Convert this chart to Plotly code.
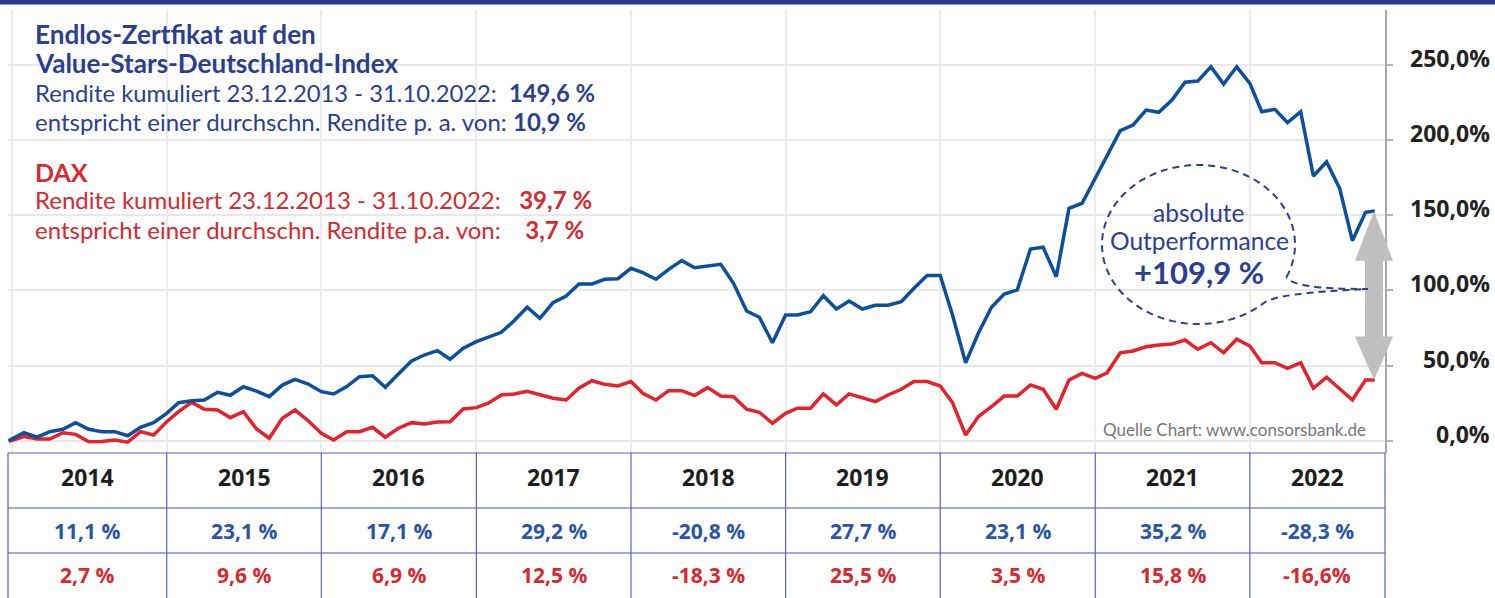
import numpy as np
import pandas as pd
import plotly.graph_objects as go

# ---------------- data ----------------
month_ends = pd.date_range("2014-03-01", "2022-11-01", freq="MS") - pd.Timedelta(days=1)
dates = ["2014-01-23"] + [d.strftime("%Y-%m-%d") for d in month_ends] + ["2022-11-22"]

value_stars = [0, 5.3, 2.3, 6, 7.6, 12, 7.6, 6, 6, 3.3, 8.9, 12, 18.2, 25.3, 26.6, 27.1, 32.2, 30.2,
               35.9, 33, 29.3, 37, 40.8, 37.7, 32.6, 31.1, 36, 42.6, 43.2, 35.5, 44.4, 53, 57, 59.9,
               54.2, 61.5, 65.9, 68.8, 72.1, 79.8, 88.8, 81.4, 91.8, 96.3, 104.3, 104.3, 107.4, 107.8,
               114.7, 111.8, 107.4, 114, 119.8, 115.1, 116.4, 117.4, 104.7, 86.3, 82.1, 65.2, 83.6,
               83.6, 85.8, 96.5, 87.6, 92.9, 87.6, 90.1, 90.1, 92.5, 101.4, 110, 110, 83.6, 51.9,
               71.5, 88.8, 97.6, 100.3, 127.5, 128.7, 109.1, 154.6, 158, 174.6, 190, 206.3, 210, 220,
               218.5, 226.7, 238.5, 239.3, 248.8, 237.3, 248.8, 237.8, 218.9, 220.5, 211.6, 218.9,
               176.1, 185.6, 167.9, 133.1, 152, 152.8]

dax = [-0.5, 2.7, 1.1, 1.1, 5.3, 4.2, -0.7, -0.5, 0.5, -1, 6, 3.8, 12.6, 19.3, 25.5, 20.9, 20.4, 15.3,
       19.3, 7.8, 1.6, 14.9, 20.4, 13.3, 4.9, 0.5, 6, 6, 8.9, 2.3, 8.3, 12, 11.1, 12.4, 12.6, 21.1, 22,
       24.9, 30.4, 31.1, 32.9, 30.4, 28.2, 27.1, 34.9, 39.9, 37.5, 36.4, 39.3, 31.5, 27.1, 33.3, 33.3,
       30, 35.3, 29.7, 29.3, 20.9, 18.9, 11.6, 18.2, 21.6, 21.6, 31.1, 23.8, 31.1, 28.6, 26, 30.4,
       34.2, 39.3, 39.3, 36.4, 25.3, 3.8, 16, 22.6, 29.7, 29.7, 37.1, 34.2, 20.9, 40.4, 44.8, 41.5,
       45.2, 58.5, 59.7, 62.5, 63.7, 64.3, 67, 60.8, 65.2, 58.5, 67.5, 63, 51.9, 51.9, 48.2, 51.9,
       34.9, 42.2, 34.9, 27.1, 40.4, 40.4]

years = ["2014", "2015", "2016", "2017", "2018", "2019", "2020", "2021", "2022"]
vs_returns = ["11,1 %", "23,1 %", "17,1 %", "29,2 %", "-20,8 %", "27,7 %", "23,1 %", "35,2 %", "-28,3 %"]
dax_returns = ["2,7 %", "9,6 %", "6,9 %", "12,5 %", "-18,3 %", "25,5 %", "3,5 %", "15,8 %", "-16,6%"]
year_starts = ["2015-01-31", "2016-01-31", "2017-01-31", "2018-01-31", "2019-01-31",
               "2020-01-31", "2021-01-31", "2022-01-31"]

y_ticks = [0, 50, 100, 150, 200, 250]
y_tick_labels = ["0,0%", "50,0%", "100,0%", "150,0%", "200,0%", "250,0%"]

x_range = ["2014-01-21 08:00", "2022-12-16"]
y_range = [-8.2, 286.6]

# ---------------- styles ----------------
FONT = "Lato"
NUM_FONT = "Open Sans"
NAVY = "#2c3f8f"
BLUE_LINE = "#0c4f9c"
RED_LINE = "#e5222b"
RED_TXT = "#d52a30"
TBL_BLUE = "#2b55a6"
W_FIG, H_FIG = 1495, 598
L, R, T, B_M = 8, 110, 10, 145
W = W_FIG - L - R
H = H_FIG - T - B_M
BOTTOM = H_FIG - B_M


def xp(px):
    return (px - L) / W


def yp(py):
    return (BOTTOM - py) / H


fig = go.Figure()
fig.add_trace(go.Scatter(x=dates, y=dax, mode="lines", line=dict(color=RED_LINE, width=3.5),
                         hoverinfo="skip", showlegend=False))
fig.add_trace(go.Scatter(x=dates, y=value_stars, mode="lines", line=dict(color=BLUE_LINE, width=3.5),
                         hoverinfo="skip", showlegend=False))

shapes = []
annotations = []

# top bar
shapes.append(dict(type="rect", xref="paper", yref="paper", x0=xp(-5), x1=xp(W_FIG + 5),
                   y0=yp(-1), y1=yp(4.5), fillcolor="#2a3b8c", line=dict(width=0), layer="above"))

# y tick labels (right aligned)
for v, lab in zip(y_ticks, y_tick_labels):
    annotations.append(dict(x=xp(1492), xref="paper", y=v, yref="y", text=lab, showarrow=False,
                            xanchor="right", yanchor="middle", yshift=7,
                            font=dict(family=NUM_FONT, size=23, color="#222222", weight="bold")))

# table lines
row_lines = [508, 553]
shapes.append(dict(type="line", xref="paper", yref="paper", x0=0, x1=1, y0=yp(453), y1=yp(453),
                   line=dict(color="#5c63b5", width=1.2)))
for py in row_lines:
    shapes.append(dict(type="line", xref="paper", yref="paper", x0=0, x1=1, y0=yp(py), y1=yp(py),
                       line=dict(color="#a5a9d8", width=2)))
for xr in [0, 1]:
    shapes.append(dict(type="line", xref="paper", yref="paper", x0=xr, x1=xr, y0=yp(453), y1=yp(600),
                       line=dict(color="#5c63b5", width=1.2)))
for d in year_starts:
    shapes.append(dict(type="line", xref="x", yref="paper", x0=d, x1=d, y0=yp(453), y1=yp(600),
                       line=dict(color="#5c63b5", width=1.2)))

bounds = [pd.Timestamp(x_range[0])] + [pd.Timestamp(d) for d in year_starts] + [pd.Timestamp(x_range[1])]
for i, (yr, v1, v2) in enumerate(zip(years, vs_returns, dax_returns)):
    mid = bounds[i] + (bounds[i + 1] - bounds[i]) / 2
    annotations.append(dict(x=mid, xref="x", y=yp(477), yref="paper", text=yr, showarrow=False,
                            xanchor="center", yanchor="middle",
                            font=dict(family=NUM_FONT, size=23, color="#1e1e1e", weight="bold")))
    annotations.append(dict(x=mid, xref="x", y=yp(531), yref="paper", text=v1, showarrow=False,
                            xanchor="center", yanchor="middle",
                            font=dict(family=NUM_FONT, size=21, color=TBL_BLUE, weight="bold")))
    annotations.append(dict(x=mid, xref="x", y=yp(575), yref="paper", text=v2, showarrow=False,
                            xanchor="center", yanchor="middle",
                            font=dict(family=NUM_FONT, size=21, color=RED_TXT, weight="bold")))

# header texts
NB = "\u00a0"
texts = [
    (34, "<b>Endlos-Zertfikat auf den</b>", NAVY, 26.1),
    (63, "<b>Value-Stars-Deutschland-Index</b>", NAVY, 26.1),
    (93, f"Rendite kumuliert 23.12.2013 - 31.10.2022:{NB}{NB}<b>149,6 %</b>", NAVY, 23.8),
    (121, "entspricht einer durchschn. Rendite p. a. von: <b>10,9 %</b>", NAVY, 24),
    (172, "<b>DAX</b>", RED_TXT, 25),
    (200, f"Rendite kumuliert 23.12.2013 - 31.10.2022:{NB * 3}<b>39,7 %</b>", RED_TXT, 24),
    (229, f"entspricht einer durchschn. Rendite p.a. von:{NB * 4}<b>3,7 %</b>", RED_TXT, 24),
]
for py, txt, col, size in texts:
    annotations.append(dict(x=xp(33), xref="paper", y=yp(py), yref="paper", text=txt, showarrow=False,
                            xanchor="left", yanchor="middle",
                            font=dict(family=FONT, size=size, color=col)))

# source
annotations.append(dict(x=xp(1368), xref="paper", y=yp(429), yref="paper",
                        text="Quelle Chart: www.consorsbank.de", showarrow=False,
                        xanchor="right", yanchor="middle",
                        font=dict(family=FONT, size=17, color="#777777")))

# grey double arrow between the two end values
ax_c, sw, hw = xp(1374), 9 / W, 19 / W
top, bot = value_stars[-1], dax[-1]
hl_top, hl_bot = 33, 29
arrow = (f"M {ax_c},{top} L {ax_c + hw},{top - hl_top} L {ax_c + sw},{top - hl_top} "
         f"L {ax_c + sw},{bot + hl_bot} L {ax_c + hw},{bot + hl_bot} L {ax_c},{bot} "
         f"L {ax_c - hw},{bot + hl_bot} L {ax_c - sw},{bot + hl_bot} L {ax_c - sw},{top - hl_top} "
         f"L {ax_c - hw},{top - hl_top} Z")
shapes.append(dict(type="path", xref="paper", yref="y", path=arrow, fillcolor="#bfbfbf",
                   line=dict(width=0), layer="above"))

# dashed speech bubble
cx, cy, rx, ry = 1198.5, 244.5, 96.5, 79.5
ang = np.radians(np.linspace(-24.3, 312.8, 140))
pts = [(cx + rx * np.cos(a), cy - ry * np.sin(a)) for a in ang]
bubble = "M " + " L ".join(f"{xp(x):.5f},{yp(y):.5f}" for x, y in pts)
bubble += f" Q {xp(1276):.5f},{yp(293):.5f} {xp(1368):.5f},{yp(289):.5f}"
bubble += f" Q {xp(1292):.5f},{yp(289):.5f} {xp(pts[0][0]):.5f},{yp(pts[0][1]):.5f}"
shapes.append(dict(type="path", xref="paper", yref="paper", path=bubble,
                   line=dict(color=NAVY, width=2, dash="7px,5px"), layer="above"))

for py, txt, size, wt in [(212, "absolute", 24.5, "normal"), (240, "Outperformance", 24.5, "normal"),
                          (272, "+109,9 %", 31, "bold")]:
    annotations.append(dict(x=xp(1199), xref="paper", y=yp(py), yref="paper", text=txt, showarrow=False,
                            xanchor="center", yanchor="middle",
                            font=dict(family=FONT, size=size, color=NAVY, weight=wt)))

fig.update_layout(
    width=W_FIG, height=H_FIG,
    margin=dict(l=L, r=R, t=T, b=B_M, pad=0),
    paper_bgcolor="white", plot_bgcolor="white",
    showlegend=False, hovermode=False,
    xaxis=dict(type="date", range=x_range, showgrid=True, gridcolor="#ebebeb", gridwidth=1.5,
               tick0="2014-01-31", dtick="M12", showticklabels=False, ticks="", showline=False,
               zeroline=False, fixedrange=True),
    yaxis=dict(range=y_range, side="right", tickvals=y_ticks, showticklabels=False,
               showgrid=True, gridcolor="#e8e8e8", gridwidth=1.5, zeroline=False,
               showline=True, linecolor="#a9a9a9", linewidth=2, ticks="outside", ticklen=6,
               tickcolor="#b5b5b5", tickwidth=1.5, fixedrange=True),
    shapes=shapes, annotations=annotations,
)

fig.write_html("out.html", config={"displayModeBar": False},
               post_script="document.body.style.margin='0px';document.body.style.overflow='hidden';")
